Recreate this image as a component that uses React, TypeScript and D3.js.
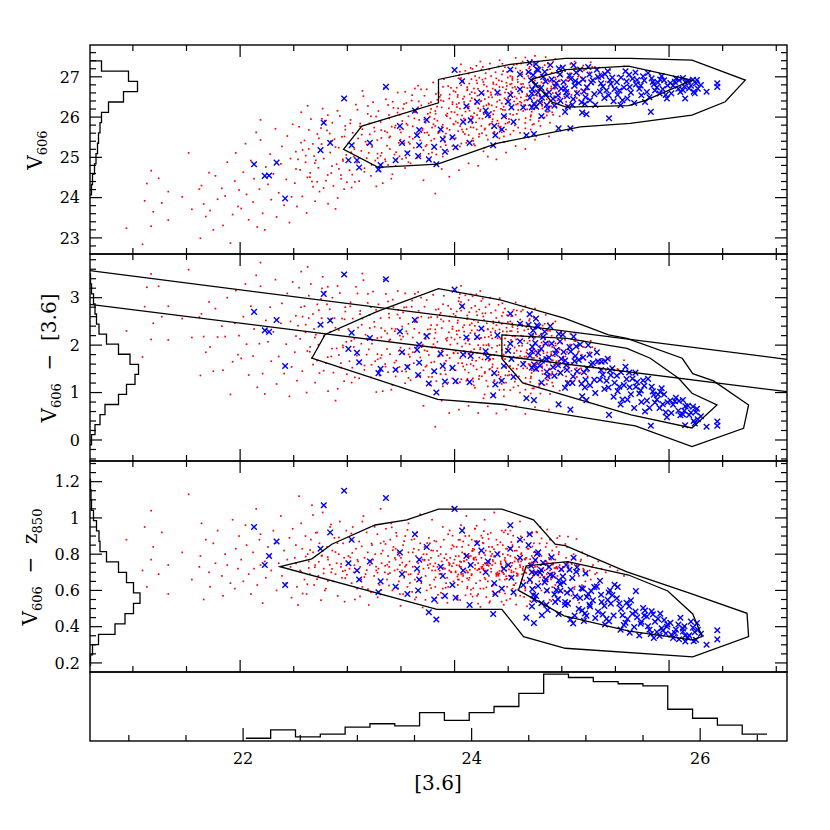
import React from 'react'
import * as d3 from 'd3'

// plot edges (px)
const L = 90
const R = 787
const P1 = [45, 254]
const P2 = [254, 461]
const P3 = [461, 672]
const P4 = [672, 741]

// [ [3.6], V606, V606 - z850 ]  (V606 - [3.6] follows from the first two)
const redStars: [number, number, number][] = [
  [20.94,23.24,0.88],[21.09,22.84,0.71],[21.11,23.92,0.95],[21.13,24.35,0.62],[21.17,24.67,1.04],[21.17,23.29,0.77],[21.19,23.65,0.84],[21.24,24.48,0.69],[21.27,23.87,0.92],[21.33,24.15,0.58],[21.33,23.44,0.74],[21.46,24.02,0.81],
  [21.52,25.11,1.13],[21.55,23.71,0.66],[21.62,24.21,0.73],[21.64,24.30,0.97],[21.63,22.99,0.79],[21.66,23.84,0.55],[21.68,23.53,0.88],[21.71,24.62,0.70],[21.72,23.68,0.62],[21.75,23.20,0.86],[21.77,24.54,0.75],[21.79,23.96,0.93],[21.83,24.23,0.68],[21.84,23.31,0.57],[21.86,24.04,0.80],[21.88,24.88,0.74],[21.91,22.87,0.64],[21.93,23.58,0.99],[21.95,24.41,0.61],[21.96,25.11,0.83],[21.98,23.78,0.72],[21.99,24.19,0.90],
  [22.01,23.73,0.77],[22.03,24.63,0.65],[22.05,25.34,0.96],[22.06,24.08,0.85],[22.08,23.45,0.69],[22.10,24.92,0.58],[22.12,23.89,0.81],[22.13,24.47,0.72],[22.15,25.62,1.05],[22.16,23.27,0.63],[22.18,24.21,0.88],[22.19,25.43,0.74],[22.19,25.93,0.91],[22.21,23.61,0.53],[22.23,23.20,0.76],[22.24,24.76,0.67],[22.26,24.33,0.84],[22.28,25.08,0.79],[22.29,23.95,0.71],[22.31,24.59,0.93],[22.33,25.71,0.86],[22.34,23.52,0.60],[22.36,24.12,0.75],[22.38,24.84,1.01],[22.39,25.27,0.68],[22.41,23.81,0.82],[22.43,24.45,0.64],[22.44,25.53,0.77],[22.46,23.38,0.89],[22.47,24.97,0.73],[22.48,24.02,0.56],[22.49,25.82,0.94],
  [22.51,24.36,0.78],[22.52,25.14,0.85],[22.53,23.78,0.62],[22.55,25.76,1.12],[22.56,24.69,0.71],[22.57,26.12,0.97],[22.58,24.03,0.83],[22.60,25.42,0.66],[22.61,24.88,0.90],[22.62,23.62,0.58],[22.64,25.21,0.76],[22.65,24.51,0.69],[22.66,25.95,0.88],[22.68,24.27,0.81],[22.69,25.03,0.63],[22.70,23.91,0.74],[22.72,25.58,0.92],[22.73,24.74,0.68],[22.74,24.15,0.86],[22.76,25.33,0.79],[22.77,26.21,1.03],[22.78,24.97,0.72],[22.80,24.42,0.61],[22.81,25.67,0.84],[22.82,23.85,0.77],[22.84,25.12,0.95],[22.85,24.61,0.70],[22.86,25.86,0.82],[22.87,24.29,0.65],[22.88,25.45,0.89],[22.90,24.83,0.75],[22.91,23.99,0.57],[22.92,25.24,0.80],[22.93,26.03,0.98],[22.94,24.56,0.73],[22.95,25.51,0.67],[22.96,24.91,0.86],[22.97,24.21,0.78],[22.98,25.78,0.71],[22.99,25.06,0.93],[22.54,24.95,0.52],[22.67,24.40,1.07],[22.79,25.91,0.60],[22.89,23.72,0.69],[22.63,26.28,0.80],
  [23.01,25.35,0.79],[23.02,24.68,0.72],[23.03,25.93,0.88],[23.04,24.25,0.64],[23.05,25.61,0.95],[23.06,25.02,0.70],[23.08,26.31,0.83],[23.09,24.87,0.61],[23.10,25.47,0.76],[23.11,24.41,0.87],[23.12,25.84,0.73],[23.13,25.16,0.66],[23.15,26.52,1.01],[23.16,24.73,0.78],[23.17,25.39,0.69],[23.18,24.98,0.92],[23.19,26.08,0.81],[23.21,25.57,0.74],[23.22,24.54,0.59],[23.23,25.26,0.85],[23.24,26.37,0.77],[23.25,25.74,0.68],[23.26,24.92,0.80],[23.28,25.43,0.91],[23.29,26.15,0.72],[23.30,24.66,0.63],[23.31,25.88,0.86],[23.32,25.11,0.75],[23.33,24.36,0.82],[23.35,25.65,0.70],[23.36,26.44,0.94],[23.37,25.29,0.66],[23.38,24.81,0.79],[23.39,25.97,0.73],[23.40,25.52,0.88],[23.42,24.58,0.60],[23.43,26.23,0.84],[23.44,25.07,0.71],[23.45,25.79,0.77],[23.46,24.95,0.90],[23.47,26.61,0.81],[23.48,25.36,0.65],[23.49,25.69,0.74],[23.07,24.39,0.55],[23.14,26.65,0.98],[23.20,25.11,0.52],[23.27,24.28,0.71],[23.34,26.72,0.87],[23.41,24.47,0.97],[23.14,25.70,0.62],[23.22,26.02,0.76],[23.31,25.04,1.05],[23.38,26.30,0.69],[23.45,24.79,0.83],[23.49,26.06,0.58],
  [23.50,25.62,0.78],[23.51,24.96,0.71],[23.52,26.21,0.85],[23.53,25.35,0.67],[23.54,26.63,0.90],[23.55,25.84,0.74],[23.56,25.13,0.62],[23.57,26.02,0.81],[23.58,25.51,0.76],[23.59,24.85,0.69],[23.60,26.41,0.88],[23.61,25.77,0.73],[23.62,25.24,0.83],[23.63,26.12,0.66],[23.64,25.58,0.79],[23.65,24.99,0.92],[23.66,26.78,0.75],[23.67,25.93,0.70],[23.68,25.42,0.86],[23.69,26.29,0.64],[23.70,25.67,0.77],[23.71,25.18,0.72],[23.72,26.53,0.84],[23.73,25.86,0.68],[23.74,25.31,0.80],[23.75,26.08,0.74],[23.76,25.55,0.89],[23.77,24.93,0.63],[23.78,26.37,0.78],[23.79,25.74,0.71],[23.80,26.86,0.82],[23.81,25.46,0.66],[23.82,26.15,0.75],[23.83,25.07,0.87],[23.84,25.91,0.73],[23.85,26.61,0.79],[23.86,25.63,0.69],[23.87,25.26,0.84],[23.88,26.24,0.76],[23.89,25.81,0.61],[23.90,26.94,0.88],[23.91,25.38,0.72],[23.92,26.05,0.80],[23.93,25.72,0.67],[23.94,25.15,0.91],[23.95,26.46,0.74],[23.96,25.97,0.78],[23.97,25.49,0.70],[23.98,26.32,0.85],[23.99,25.83,0.65],[23.52,25.70,0.58],[23.57,24.88,0.97],[23.63,26.71,0.55],[23.68,25.03,1.02],[23.74,26.69,0.60],[23.79,25.12,0.99],[23.84,26.43,0.53],[23.89,25.02,0.95],[23.94,26.77,0.62],[23.98,25.28,1.06],[23.55,26.35,0.74],[23.61,25.46,0.81],[23.66,26.24,0.69],[23.72,25.61,0.77],[23.77,26.01,0.86],[23.82,25.78,0.71],[23.87,26.55,0.80],[23.92,25.59,0.64],[23.97,26.13,0.83],[23.99,26.65,0.75],
  [24.00,26.12,0.77],[24.01,25.48,0.70],[24.02,26.73,0.84],[24.03,25.86,0.66],[24.04,26.35,0.79],[24.05,25.27,0.88],[24.06,26.97,0.73],[24.07,26.04,0.81],[24.08,25.63,0.68],[24.09,26.51,0.76],[24.10,25.92,0.90],[24.11,26.28,0.71],[24.12,25.41,0.62],[24.13,27.08,0.85],[24.14,26.16,0.74],[24.15,25.75,0.79],[24.16,26.62,0.69],[24.17,26.01,0.83],[24.18,25.33,0.77],[24.19,26.44,0.72],[24.20,25.87,0.64],[24.21,26.84,0.87],[24.22,26.22,0.75],[24.23,25.58,0.80],[24.24,26.39,0.70],[24.25,27.18,0.78],[24.26,25.96,0.73],[24.27,26.57,0.86],[24.28,25.69,0.67],[24.29,26.11,0.82],[24.30,26.76,0.74],[24.31,25.44,0.91],[24.32,26.31,0.68],[24.33,25.83,0.77],[24.34,27.02,0.72],[24.35,26.49,0.84],[24.36,26.07,0.63],[24.37,25.61,0.79],[24.38,26.68,0.75],[24.39,26.25,0.88],[24.40,25.91,0.70],[24.41,27.26,0.81],[24.42,26.42,0.66],[24.43,25.76,0.76],[24.44,26.89,0.73],[24.45,26.18,0.85],[24.46,25.52,0.69],[24.47,26.61,0.78],[24.48,26.02,0.74],[24.49,27.12,0.83],
  [24.02,25.22,0.55],[24.06,27.31,0.96],[24.11,25.36,1.01],[24.15,27.22,0.58],[24.19,25.29,0.94],[24.24,27.38,0.61],[24.28,25.24,0.99],[24.33,27.33,0.54],[24.37,25.31,1.03],[24.42,27.41,0.59],[24.46,25.38,0.92],[24.03,26.55,0.63],[24.08,26.88,0.87],[24.12,26.69,0.70],[24.17,25.47,0.82],[24.21,26.05,0.57],[24.26,26.93,0.89],[24.31,26.64,0.65],[24.35,25.72,0.74],[24.39,26.81,0.68],[24.44,26.34,0.93],[24.48,25.69,0.71],[24.05,26.21,0.76],[24.10,27.15,0.80],[24.14,25.96,0.67],[24.18,26.71,0.78],[24.23,26.98,0.72],[24.27,26.27,0.61],[24.32,25.99,0.84],[24.36,26.86,0.76],[24.41,25.84,0.69],[24.45,26.74,0.80],[24.49,26.41,0.62],[24.07,25.69,0.84],[24.16,26.47,0.88],[24.25,25.78,0.73],[24.34,26.13,0.79],[24.43,26.56,0.75],[24.47,27.24,0.66],[24.29,27.09,0.71],
  [24.50,26.45,0.74],[24.51,25.88,0.68],[24.52,27.02,0.79],[24.53,26.24,0.71],[24.54,26.73,0.85],[24.55,25.66,0.63],[24.56,26.51,0.76],[24.57,27.21,0.72],[24.58,26.08,0.82],[24.59,26.87,0.69],[24.60,25.94,0.77],[24.61,26.38,0.74],[24.62,27.33,0.80],[24.63,26.62,0.66],[24.64,26.15,0.73],[24.65,26.96,0.88],[24.66,25.72,0.70],[24.67,26.43,0.78],[24.68,27.11,0.64],[24.69,26.29,0.83],[24.70,26.79,0.75],[24.71,26.01,0.71],[24.72,27.42,0.79],[24.73,26.56,0.68],[24.74,25.83,0.86],[24.75,26.91,0.73],[24.76,26.35,0.77],[24.77,27.16,0.70],[24.78,26.68,0.81],[24.79,25.98,0.65],[24.80,26.47,0.74],[24.81,27.05,0.79],[24.82,26.21,0.72],[24.83,26.84,0.67],[24.84,27.29,0.76],[24.85,26.59,0.84],[24.86,26.04,0.69],[24.87,26.93,0.73],[24.88,26.37,0.78],[24.89,27.19,0.71],[24.90,26.71,0.66],[24.91,26.12,0.82],[24.92,27.38,0.75],[24.93,26.52,0.70],[24.94,26.98,0.77],[24.95,26.26,0.73],[24.96,27.09,0.68],[24.97,26.64,0.80],[24.98,26.89,0.74],[24.99,27.26,0.71],
  [24.52,25.57,0.93],[24.57,27.47,0.57],[24.61,25.61,0.98],[24.66,27.48,0.60],[24.71,25.69,0.91],[24.75,27.52,0.62],[24.80,25.78,0.95],[24.85,27.49,0.59],[24.89,25.86,0.88],[24.94,27.44,0.63],[24.98,26.02,0.90],[24.54,26.92,0.61],[24.59,26.33,0.87],[24.63,27.06,0.69],[24.68,26.72,0.83],[24.72,26.19,0.64],[24.77,26.53,0.92],[24.81,26.73,0.60],[24.86,26.44,0.86],[24.91,26.87,0.67],[24.95,26.61,0.84],[24.53,26.61,0.70],[24.62,26.82,0.76],[24.70,27.25,0.73],[24.79,26.99,0.79],[24.87,27.33,0.75],[24.96,26.42,0.72],[24.58,27.31,0.68],[24.74,26.47,0.81],[24.90,26.27,0.77],
  [25.01,26.76,0.73],[25.03,27.14,0.69],[25.04,26.38,0.78],[25.06,26.97,0.71],[25.08,27.32,0.66],[25.09,26.55,0.75],[25.11,26.86,0.80],[25.13,27.21,0.70],[25.14,26.47,0.74],[25.16,27.03,0.68],[25.18,26.69,0.77],[25.20,27.28,0.72],[25.22,26.91,0.65],[25.24,26.58,0.79],[25.26,27.11,0.71],[25.29,26.82,0.74],[25.31,27.24,0.69],[25.34,26.95,0.76],[25.37,27.08,0.72],[25.41,26.88,0.70],[25.45,27.17,0.73],[25.05,26.29,0.84],[25.12,27.38,0.62],[25.19,26.35,0.81],[25.27,27.36,0.66],[25.52,27.02,0.71],[25.58,27.26,0.68],
  [23.82,24.10,0.62],[23.95,24.52,0.71],[24.04,24.68,0.66],[24.13,24.85,0.79],[24.22,24.79,0.58],[24.31,25.02,0.74],[24.39,24.95,0.69],[24.48,25.12,0.83],[24.57,25.28,0.64],[24.66,25.21,0.77],[24.75,25.44,0.70],[24.88,25.52,0.73],[23.71,24.43,0.80],[23.88,24.71,0.56],[24.27,25.15,0.72],
  [24.213,26.531,0.712],[24.587,26.934,0.684],[23.947,26.218,0.753],[24.772,26.412,0.731],[24.351,25.887,0.802],[24.906,27.102,0.695],[24.118,26.743,0.667],[24.663,25.974,0.779],[23.782,25.416,0.821],[24.442,27.057,0.703],[24.034,25.652,0.688],[24.829,26.658,0.744],[24.297,26.295,0.617],[24.518,26.078,0.836],[23.861,26.503,0.709],[24.695,27.211,0.662],[24.176,25.741,0.774],[24.953,26.817,0.728],[24.389,26.962,0.693],[23.718,25.938,0.765],
  [24.624,26.357,0.806],[24.071,26.907,0.649],[24.858,26.133,0.757],[24.255,25.598,0.721],[24.481,26.689,0.678],[23.992,25.817,0.842],[24.737,26.865,0.697],[24.147,26.402,0.738],[24.562,25.792,0.819],[23.823,26.084,0.672],[24.998,27.034,0.716],[24.324,27.183,0.759],[24.785,25.901,0.794],[24.009,26.626,0.705],[24.427,25.694,0.866],[24.893,26.523,0.689],[24.191,27.018,0.741],[23.904,25.524,0.778],[24.649,26.741,0.655],[24.368,26.157,0.827],
  [24.551,27.296,0.702],[24.087,25.963,0.762],[24.816,26.278,0.683],[23.758,26.337,0.724],[24.274,26.803,0.807],[24.712,26.049,0.746],[24.935,26.702,0.674],[24.049,27.126,0.731],[24.466,26.467,0.768],[23.881,25.762,0.692],[24.601,26.587,0.839],[24.227,25.512,0.718],[24.869,27.172,0.661],[24.134,26.261,0.785],[24.532,26.829,0.736],[23.966,26.727,0.704],[24.748,26.613,0.757],[24.408,25.783,0.681],[24.973,26.357,0.812],[24.309,26.646,0.749],
  [24.096,25.578,0.803],[24.677,26.192,0.726],[24.453,27.141,0.698],[23.745,25.619,0.861],[24.842,26.961,0.711],[24.238,26.148,0.654],[24.575,26.312,0.775],[24.019,26.317,0.739],[24.739,27.317,0.687],[24.164,25.846,0.817],[24.916,26.598,0.742],[24.341,26.551,0.703],[23.928,26.023,0.768],[24.612,27.064,0.729],[24.284,25.719,0.795],[24.798,26.784,0.672],[24.061,26.789,0.757],[24.507,25.953,0.716],[23.803,25.823,0.733],[24.883,26.229,0.801],
  [24.397,26.384,0.689],[24.726,25.812,0.842],[24.142,26.566,0.713],[24.538,26.997,0.752],[23.975,25.491,0.734],[24.669,26.515,0.696],[24.203,27.273,0.769],[24.944,26.936,0.723],[24.371,25.634,0.785],[24.817,26.371,0.706],[24.026,26.059,0.677],[24.594,26.176,0.758],[24.268,26.872,0.741],[23.837,26.261,0.818],[24.759,26.989,0.702],[24.113,25.702,0.769],[24.487,26.772,0.664],[24.919,26.054,0.747],[24.332,26.036,0.814],[24.635,27.381,0.719],
  [23.773,26.112,0.747],[24.196,26.324,0.782],[24.579,26.463,0.695],[24.043,27.041,0.738],[24.705,26.296,0.772],[24.419,26.748,0.708],[24.851,26.575,0.763],[24.157,26.943,0.684],[24.496,25.855,0.796],[23.896,26.396,0.725],
  [24.282,26.447,0.751],[24.638,26.823,0.711],[24.011,25.891,0.789],[24.764,26.546,0.703],[24.432,26.205,0.744],[24.183,26.098,0.826],[24.526,26.636,0.679],[24.878,26.897,0.735],[24.356,26.707,0.768],[24.078,26.452,0.691],
  [24.719,26.132,0.755],[24.231,25.968,0.717],[24.563,26.748,0.782],[23.955,26.561,0.746],[24.809,27.053,0.708],[24.318,26.493,0.736],[24.652,26.409,0.772],[24.124,26.215,0.699],[24.476,26.331,0.761],[24.931,26.485,0.724],
  [25.063,26.627,0.738],[25.152,27.005,0.706],[25.048,26.903,0.752],[25.236,26.769,0.691],[25.118,26.437,0.776],[25.207,27.163,0.713],[25.092,26.715,0.745],[25.327,26.996,0.697],[25.174,26.588,0.761],[25.283,27.241,0.728],
  [22.612,25.043,0.787],[22.857,24.783,0.719],[23.134,25.564,0.843],[23.397,25.207,0.696],[22.734,25.472,0.758],[23.046,24.571,0.807],[23.268,26.014,0.731],[22.981,25.689,0.668],[23.512,25.903,0.754],[22.653,24.615,0.823],
  [23.181,25.318,0.712],[22.908,26.155,0.861],[23.443,25.737,0.779],[22.779,24.239,0.694],[23.352,24.953,0.736],[23.027,25.844,0.782],[22.568,25.367,0.703],[23.226,24.812,0.859],[22.836,25.592,0.741],[23.571,25.375,0.688],
  [23.094,26.183,0.769],[22.697,24.857,0.728],[23.316,25.676,0.803],[22.942,24.468,0.747],[23.468,26.112,0.716],[22.763,25.958,0.793],[23.159,24.639,0.674],[23.391,25.494,0.757],[22.889,25.256,0.812],[23.538,24.735,0.731],
  [22.521,24.712,0.749],[23.281,25.092,0.698],[22.817,24.563,0.784],[23.065,25.201,0.739],[23.423,26.382,0.822],[22.958,24.951,0.706],[23.207,25.845,0.765],[22.641,25.682,0.724],[23.486,25.026,0.791],[22.718,24.393,0.662],
  [23.317,25.482,0.603],[23.642,26.137,0.562],[23.455,25.128,0.918],[23.873,26.416,0.587],[23.561,25.803,0.934],[23.729,25.274,0.548],[23.388,26.051,0.627],[23.954,25.683,0.931],[23.604,26.544,0.592],[23.812,25.955,0.874],[23.496,25.441,0.515],[23.687,26.688,0.651],[23.933,26.088,0.532],[23.356,24.902,0.856],[23.781,26.201,0.613],[23.529,26.324,0.872],[23.846,25.604,0.576],[23.414,25.762,0.948],[23.702,25.713,0.506],[23.981,26.371,0.902],
  [23.583,25.336,0.641],[23.892,26.753,0.678],[23.473,26.217,0.611],[23.758,25.087,0.768],[23.625,25.967,0.883],[23.917,25.302,0.615],[23.372,25.619,0.742],[23.826,26.574,0.559],[23.548,24.992,0.702],[23.665,26.389,0.824],
  [24.052,25.776,0.547],[24.337,26.612,0.918],[24.168,27.197,0.566],[24.474,25.837,0.931],[24.241,26.185,0.509],[24.089,26.374,0.947],[24.413,26.911,0.594],[24.296,25.546,0.563],[24.137,26.832,0.901],[24.458,26.259,0.521],[24.206,25.694,0.957],[24.382,27.114,0.632],[24.028,26.498,0.559],[24.317,26.339,0.884],[24.174,25.408,0.612],[24.439,25.621,0.538],[24.263,27.245,0.863],[24.102,26.137,0.573],[24.355,25.947,0.596],[24.497,26.983,0.911],
  [24.219,26.702,0.527],[24.063,25.344,0.689],[24.401,26.547,0.852],[24.153,26.023,0.604],[24.288,26.959,0.662],[24.471,26.176,0.583],[24.037,26.964,0.879],[24.324,25.809,0.532],[24.189,26.596,0.941],[24.446,27.327,0.724],
  [24.117,26.667,0.611],[24.362,26.821,0.579],[24.249,26.402,0.902],[24.022,26.248,0.568],[24.418,25.473,0.693],[24.273,26.073,0.927],[24.131,25.553,0.658],[24.484,26.852,0.546],[24.347,26.291,0.623],[24.204,26.911,0.873],
  [24.518,26.813,0.554],[24.763,26.227,0.924],[24.612,27.152,0.571],[24.887,26.392,0.548],[24.546,26.054,0.902],[24.821,27.233,0.633],[24.675,26.571,0.513],[24.957,26.786,0.889],[24.593,25.738,0.605],[24.731,26.942,0.582],[24.864,26.709,0.936],[24.529,27.136,0.867],[24.706,25.931,0.541],[24.911,26.347,0.618],[24.648,26.297,0.564],[24.793,26.518,0.859],[24.574,26.694,0.522],[24.982,26.565,0.592],[24.686,27.021,0.913],[24.839,25.992,0.676],
  [24.556,26.387,0.629],[24.745,27.091,0.552],[24.618,26.488,0.898],[24.902,26.759,0.541],[24.659,25.853,0.611],[24.811,26.863,0.887],[24.539,26.956,0.596],[24.977,26.911,0.559],[24.724,26.668,0.918],[24.872,26.131,0.603],
  [25.024,26.512,0.597],[25.076,27.087,0.543],[25.137,26.653,0.884],[25.091,26.334,0.571],[25.188,26.982,0.629],[25.033,26.792,0.856],[25.162,26.414,0.532],[25.117,27.207,0.607],[25.243,26.687,0.582],[25.058,26.983,0.897],
  [22.583,25.184,0.583],[22.847,25.403,0.964],[23.118,25.771,0.567],[22.706,24.925,0.918],[22.974,25.518,0.538],[23.254,25.642,0.951],[22.627,24.503,0.634],[22.921,24.713,0.892],[23.192,26.274,0.607],[22.754,25.727,0.546],[23.037,25.127,0.914],[22.818,26.048,0.652],[23.283,24.983,0.562],[22.679,25.334,1.016],[22.995,24.382,0.687],
]

const blueStars: [number, number, number][] = [
  [22.13,24.83,0.95],[22.23,24.54,0.74],[22.27,24.55,0.79],[22.34,24.87,0.87],[22.42,23.98,0.63],[22.75,25.18,0.83],[22.78,25.86,1.07],[22.84,25.36,0.92],[22.97,26.46,1.15],[23.01,24.93,0.75],[23.04,25.30,0.88],[23.09,24.93,0.71],[23.11,24.75,0.66],[23.21,25.36,0.76],[23.29,24.70,0.59],[23.31,24.81,0.65],[23.36,26.75,1.11],[23.45,24.93,0.62],[23.49,25.78,0.81],[23.51,25.36,0.69],[23.56,25.10,0.58],[23.63,26.16,0.91],[23.67,25.68,0.77],[23.65,25.55,0.72],[23.67,25.30,0.66],[23.66,25.03,0.60],[23.74,25.93,0.84],[23.76,24.95,0.48],[23.81,25.26,0.55],[23.83,24.83,0.44],[23.87,25.69,0.73],[23.89,25.45,0.68],[23.91,25.14,0.57],[23.98,25.50,0.63],[24.00,27.17,1.05],[24.01,25.25,0.56],[24.07,26.89,0.93],[24.08,25.88,0.71],[24.11,26.27,0.79],[24.15,25.92,0.74],[24.14,25.36,0.52],[24.21,26.38,0.86],[24.25,26.60,0.82],[24.29,26.16,0.70],[24.31,26.05,0.76],[24.36,25.30,0.47],[24.37,25.78,0.64],[24.38,25.55,0.58],[24.40,26.61,0.80],[24.44,25.69,0.61],[24.46,26.02,0.72],[24.50,26.38,0.74],[24.52,27.18,0.96],[24.52,26.55,0.83],[24.53,26.24,0.67],[24.55,25.88,0.59],[24.61,27.06,0.88],[24.61,26.69,0.78],[24.64,26.24,0.63],[24.67,25.55,0.45],[24.69,27.12,0.85],[24.70,27.35,0.91],[24.72,26.59,0.70],[24.74,25.58,0.42],[24.76,26.26,0.57],[24.78,27.17,0.81],[24.81,26.02,0.53],[24.86,26.30,0.60],[24.97,25.72,0.47],[25.03,26.13,0.52],[25.08,25.72,0.44],[25.11,27.29,0.78],[25.19,26.11,0.49],[25.23,26.07,0.46],[25.44,25.97,0.43],[25.83,26.13,0.36],[25.98,26.46,0.40],[26.15,26.46,0.35],[26.24,26.59,0.37],[26.35,26.63,0.30],[26.45,26.75,0.33],[26.45,26.84,0.38],[26.26,26.92,0.42],[26.23,26.63,0.32],[26.13,26.67,0.39],
  [24.714,26.912,0.736],[24.931,26.284,0.578],[24.768,27.184,0.802],[24.856,26.563,0.521],[24.702,26.477,0.659],[24.983,27.061,0.634],[24.807,26.728,0.713],[24.892,27.293,0.686],[24.741,26.331,0.548],[24.949,26.846,0.603],[24.826,26.998,0.752],[24.778,26.613,0.624],[24.918,26.452,0.681],[24.733,27.041,0.574],[24.867,26.211,0.492],[24.995,26.705,0.717],[24.752,26.794,0.767],[24.841,27.122,0.645],[24.964,26.538,0.552],[24.796,26.362,0.698],[24.905,26.937,0.783],[24.725,26.688,0.607],[24.881,26.617,0.729],[24.973,27.206,0.655],[24.814,26.484,0.463],[24.759,27.318,0.694],[24.938,26.763,0.537],[24.849,26.884,0.661],[24.987,26.402,0.598],[24.721,26.245,0.512],
  [25.017,26.873,0.645],[25.263,26.418,0.512],[25.134,27.108,0.703],[25.382,26.756,0.468],[25.049,26.524,0.587],[25.471,26.981,0.574],[25.206,26.635,0.432],[25.098,26.302,0.669],[25.327,27.174,0.621],[25.158,26.847,0.498],[25.436,26.542,0.589],[25.072,27.032,0.714],[25.289,26.913,0.545],[25.184,26.369,0.612],[25.403,27.066,0.412],[25.031,26.708,0.536],[25.356,26.627,0.653],[25.246,27.245,0.581],[25.119,26.781,0.462],[25.457,26.825,0.527],[25.221,26.491,0.694],[25.083,26.948,0.603],[25.312,26.304,0.448],[25.171,27.183,0.558],[25.492,26.697,0.631],[25.056,26.255,0.527],[25.274,26.862,0.596],[25.397,26.473,0.515],[25.142,26.592,0.728],[25.338,26.999,0.483],[25.234,26.741,0.564],[25.428,27.142,0.548],[25.009,27.228,0.677],[25.197,26.936,0.609],[25.366,26.838,0.576],[25.106,26.446,0.418],[25.483,26.394,0.462],[25.258,27.056,0.521],[25.041,26.619,0.741],[25.417,26.665,0.443],[25.303,26.571,0.618],[25.126,26.896,0.567],[25.449,26.917,0.601],[25.215,26.324,0.473],[25.371,27.022,0.536],
  [25.513,26.868,0.557],[25.742,26.542,0.428],[25.628,27.051,0.512],[25.887,26.738,0.371],[25.566,26.417,0.463],[25.954,26.915,0.437],[25.691,26.812,0.596],[25.804,27.093,0.402],[25.537,26.659,0.528],[25.912,26.585,0.349],[25.659,26.953,0.471],[25.776,26.376,0.489],[25.594,27.138,0.422],[25.849,26.874,0.468],[25.723,26.702,0.351],[25.986,26.783,0.412],[25.552,26.981,0.498],[25.817,26.494,0.383],[25.644,26.608,0.545],[25.931,27.021,0.391],[25.702,26.921,0.452],[25.869,26.659,0.428],[25.579,26.736,0.409],[25.758,27.012,0.503],[25.969,26.552,0.362],[25.612,26.463,0.442],[25.838,26.961,0.485],[25.675,26.349,0.398],[25.521,26.551,0.619],[25.897,26.857,0.443],[25.736,26.781,0.417],[25.604,26.887,0.532],[25.793,26.623,0.456],[25.941,26.694,0.379],[25.687,27.108,0.483],[25.858,26.812,0.338],[25.548,26.297,0.384],[25.769,26.912,0.462],[25.633,26.746,0.367],[25.918,26.932,0.472],
  [26.012,26.846,0.421],[26.187,26.713,0.352],[26.064,26.954,0.384],[26.251,26.842,0.327],[26.106,26.627,0.449],[26.038,26.781,0.338],[26.223,26.927,0.395],[26.152,26.862,0.318],[26.087,26.705,0.412],[26.297,26.798,0.361],[26.129,26.971,0.373],[26.021,26.589,0.356],[26.204,26.781,0.428],[26.176,26.897,0.341],[26.055,26.874,0.365],[26.268,26.706,0.383],[26.143,26.758,0.402],[26.093,26.915,0.331],
]

// contour outlines
const contourVOuter = [[22.964,25.199],[23.135,25.777],[23.850,26.355],[23.850,26.935],[24.519,27.308],[25.032,27.457],[25.638,27.457],[26.214,27.414],[26.711,26.918],[26.524,26.380],[26.214,26.050],[25.638,25.844],[25.172,25.759],[24.395,25.347],[23.842,24.834],[23.287,24.752]]
const contourVInner = [[24.715,26.935],[25.041,27.179],[25.622,27.266],[26.214,26.918],[25.787,26.422],[25.622,26.285],[25.041,26.248],[24.910,26.372]]
const contourCOuter = [[22.669,1.724],[22.793,2.224],[23.275,2.707],[23.850,3.190],[24.425,2.954],[25.022,2.568],[25.436,2.215],[25.607,2.144],[26.123,1.723],[26.221,1.398],[26.415,1.245],[26.742,0.738],[26.695,0.247],[26.214,-0.141],[25.685,0.299],[24.453,0.748],[23.842,0.858]]
const contourCInner = [[24.441,2.214],[25.048,2.144],[25.607,1.933],[25.825,1.723],[26.089,1.301],[26.214,0.985],[26.447,0.738],[26.214,0.253],[25.646,0.527],[24.635,1.202],[24.441,1.714]]
const contourZOuter = [[22.373,0.731],[22.669,0.774],[22.855,0.855],[23.259,0.961],[23.555,0.989],[23.850,1.049],[24.441,1.049],[24.736,0.989],[24.938,0.855],[25.032,0.847],[25.607,0.702],[26.198,0.584],[26.727,0.474],[26.742,0.345],[26.221,0.233],[25.032,0.281],[24.643,0.345],[24.441,0.496],[23.835,0.496]]
const contourZInner = [[24.668,0.735],[25.055,0.759],[25.622,0.685],[25.988,0.597],[26.221,0.470],[26.307,0.345],[26.214,0.327],[25.629,0.375],[25.022,0.460],[24.596,0.600]]

// straight lines in the V - [3.6] panel
const colourLines = [
  [[20.6, 3.569], [27.1, 1.701]],
  [[20.6, 2.860], [27.1, 1.018]],
]

// marginal histograms (start, bin width, counts)
const histV = { start: 24.07, width: 0.256, counts: [3, 5, 9, 12, 15, 17, 20, 23, 37, 67, 95, 77, 23] }
const histC = { start: -0.1, width: 0.212, counts: [3, 10, 20, 30, 57, 73, 90, 97, 80, 57, 33, 18, 13, 10, 7, 3, 1] }
const histZ = { start: 0.187, width: 0.057, counts: [1, 5, 17, 50, 70, 87, 100, 87, 73, 57, 33, 20, 18, 13, 7, 3, 2, 1] }
const histX = { start: 22.024, width: 0.2172, counts: [4, 16, 6, 10, 20, 25, 22, 41, 30, 41, 50, 69, 97, 92, 86, 83, 80, 46, 33, 23, 10] }

const xTickLabels = [22, 24, 26]

const xTop = d3.scaleLinear().domain([20.6, 27.1]).range([L, R])
const xBot = d3.scaleLinear().domain([20.66, 26.76]).range([L, R])
const yV = d3.scaleLinear().domain([22.6, 27.79]).range([P1[1], P1[0]])
const yC = d3.scaleLinear().domain([-0.443, 3.921]).range([P2[1], P2[0]])
const yZ = d3.scaleLinear().domain([0.15, 1.314]).range([P3[1], P3[0]])
const yH = d3.scaleLinear().domain([0, 100]).range([P4[1], P4[0]])
const xH = d3.scaleLinear().domain([0, 100]).range([L, L + 50])

const FONT = 'DejaVu Serif'

function vHistPath(h, y) {
  const pts: [number, number][] = [[xH(0), y(h.start)]]
  h.counts.forEach((c, i) => {
    const lo = h.start + i * h.width
    pts.push([xH(c), y(lo)], [xH(c), y(lo + h.width)])
  })
  pts.push([xH(0), y(h.start + h.counts.length * h.width)])
  return d3.line()(pts)
}

function hHistPath(h) {
  const pts: [number, number][] = []
  h.counts.forEach((c, i) => {
    const lo = h.start + i * h.width
    pts.push([xBot(lo), yH(c)], [xBot(lo + h.width), yH(c)])
  })
  return d3.line()(pts)
}

const poly = (pts, y) => d3.line().x(d => xTop(d[0])).y(d => y(d[1]))(pts) + 'Z'

const xMinor = d3.range(42, 55).map(i => ({ v: i / 2, major: i % 4 === 0 }))

function Frame({ top, bottom, yScale, yTicks, labels, fmt }) {
  const els = []
  xMinor.forEach(({ v, major }, i) => {
    const x = xTop(v)
    const len = major ? 12 : 6
    els.push(<line key={'t' + i} x1={x} x2={x} y1={top} y2={top + len} />)
    els.push(<line key={'b' + i} x1={x} x2={x} y1={bottom} y2={bottom - len} />)
  })
  yTicks.forEach(({ v, major }, i) => {
    const y = yScale(v)
    if (y <= top + 0.5 || y >= bottom - 0.5) return
    const len = major ? 12 : 6
    els.push(<line key={'l' + i} x1={L} x2={L + len} y1={y} y2={y} />)
    els.push(<line key={'r' + i} x1={R} x2={R - len} y1={y} y2={y} />)
  })
  return (
    <g>
      <g stroke="#000" strokeWidth={1.2}>{els}</g>
      <rect x={L} y={top} width={R - L} height={bottom - top} fill="none" stroke="#000" strokeWidth={1.4} />
      <g fontFamily={FONT} fontSize={16} textAnchor="end">
        {labels.map(v => (
          <text key={v} x={80} y={yScale(v)} dy="0.36em">{fmt(v)}</text>
        ))}
      </g>
    </g>
  )
}

function Scatter({ id, top, bottom, yOf, yScale }) {
  return (
    <g clipPath={`url(#${id})`}>
      <defs>
        <clipPath id={id}><rect x={L} y={top} width={R - L} height={bottom - top} /></clipPath>
      </defs>
      {redStars.map((d, i) => (
        <rect key={'r' + i} x={xTop(d[0]) - 0.85} y={yScale(yOf(d)) - 0.85} width={1.7} height={1.7} fill="#ff0000" />
      ))}
      <g stroke="#0000ff" strokeWidth={1.4}>
        {blueStars.map((d, i) => {
          const x = xTop(d[0])
          const y = yScale(yOf(d))
          return <path key={'b' + i} d={`M${x - 2.8},${y - 2.8}L${x + 2.8},${y + 2.8}M${x - 2.8},${y + 2.8}L${x + 2.8},${y - 2.8}`} />
        })}
      </g>
    </g>
  )
}

export default function App() {
  const vTicks = d3.range(113, 139).map(i => ({ v: i / 5, major: i % 5 === 0 }))
  const cTicks = d3.range(-2, 20).map(i => ({ v: i / 5, major: i % 5 === 0 }))
  const zTicks = d3.range(3, 27).map(i => ({ v: i / 20, major: i % 4 === 0 }))
  const botTicks = d3.range(42, 54).map(i => ({ v: i / 2, major: i % 4 === 0 }))

  return (
    <svg width={830} height={830} style={{ position: 'absolute', left: 0, top: 0, background: '#fff' }}>
      {/* panel 1: V606 vs [3.6] */}
      <Scatter id="c1" top={P1[0]} bottom={P1[1]} yOf={d => d[1]} yScale={yV} />
      <g fill="none" stroke="#000" strokeWidth={1.3}>
        <path d={poly(contourVOuter, yV)} />
        <path d={poly(contourVInner, yV)} />
        <path d={vHistPath(histV, yV)} />
      </g>
      <Frame top={P1[0]} bottom={P1[1]} yScale={yV} yTicks={vTicks} labels={[23, 24, 25, 26, 27]} fmt={String} />

      {/* panel 2: V606 - [3.6] */}
      <Scatter id="c2" top={P2[0]} bottom={P2[1]} yOf={d => d[1] - d[0]} yScale={yC} />
      <g fill="none" stroke="#000" strokeWidth={1.3} clipPath="url(#c2)">
        <path d={poly(contourCOuter, yC)} />
        <path d={poly(contourCInner, yC)} />
        {colourLines.map((ln, i) => (
          <path key={i} d={d3.line().x(d => xTop(d[0])).y(d => yC(d[1]))(ln)} />
        ))}
        <path d={vHistPath(histC, yC)} />
      </g>
      <Frame top={P2[0]} bottom={P2[1]} yScale={yC} yTicks={cTicks} labels={[0, 1, 2, 3]} fmt={String} />

      {/* panel 3: V606 - z850 */}
      <Scatter id="c3" top={P3[0]} bottom={P3[1]} yOf={d => d[2]} yScale={yZ} />
      <g fill="none" stroke="#000" strokeWidth={1.3}>
        <path d={poly(contourZOuter, yZ)} />
        <path d={poly(contourZInner, yZ)} />
        <path d={vHistPath(histZ, yZ)} />
      </g>
      <Frame top={P3[0]} bottom={P3[1]} yScale={yZ} yTicks={zTicks} labels={[0.2, 0.4, 0.6, 0.8, 1, 1.2]} fmt={String} />

      {/* panel 4: [3.6] histogram */}
      <path d={hHistPath(histX)} fill="none" stroke="#000" strokeWidth={1.3} />
      <rect x={L} y={P4[0]} width={R - L} height={P4[1] - P4[0]} fill="none" stroke="#000" strokeWidth={1.4} />
      <g stroke="#000" strokeWidth={1.2}>
        {botTicks.map(({ v, major }) => (
          <line key={v} x1={xBot(v)} x2={xBot(v)} y1={P4[1]} y2={P4[1] - (major ? 13 : 6)} />
        ))}
      </g>
      <g fontFamily={FONT} fontSize={16} textAnchor="middle">
        {xTickLabels.map(v => (
          <text key={v} x={xBot(v)} y={764}>{v}</text>
        ))}
      </g>

      {/* axis titles */}
      <g fontFamily={FONT} fontSize={20} textAnchor="middle">
        <text transform="translate(42,150) rotate(-90)">
          V<tspan fontSize={13} dy={5}>606</tspan>
        </text>
        <text transform="translate(56,358) rotate(-90)">
          V<tspan fontSize={13} dy={5}>606</tspan>
          <tspan dy={-5}>{'\u00a0\u00a0\u2212\u00a0\u00a0[3.6]'}</tspan>
        </text>
        <text transform="translate(37,567) rotate(-90)">
          V<tspan fontSize={13} dy={5}>606</tspan>
          <tspan dy={-5}>{'\u00a0\u00a0\u2212\u00a0\u00a0z'}</tspan>
          <tspan fontSize={13} dy={5}>850</tspan>
        </text>
        <text x={438} y={790}>[3.6]</text>
      </g>
    </svg>
  )
}
